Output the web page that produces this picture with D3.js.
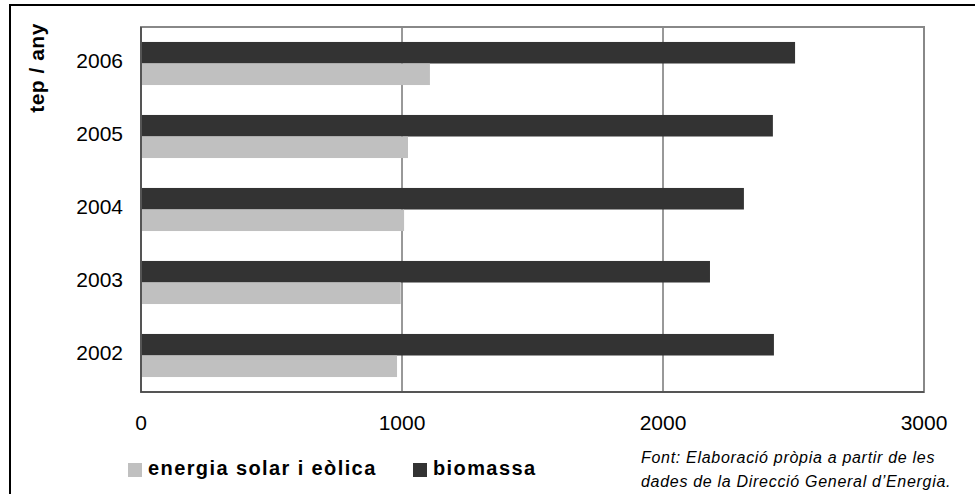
<!DOCTYPE html>
<html>
<head>
<meta charset="utf-8">
<script src="https://cdn.jsdelivr.net/npm/d3@7"></script>
<style>
  body { margin: 0; background: #fff; }
  svg { display: block; font-family: "Liberation Sans", Arial, sans-serif; }
</style>
</head>
<body>
<div id="chart"></div>
<script>
// data
var years = ['2002', '2003', '2004', '2005', '2006'];
var solar = [981, 995, 1008, 1023, 1107];
var biomassa = [2425, 2180, 2310, 2421, 2506];
var xTicks = [0, 1000, 2000, 3000];
var seriesNames = ['energia solar i eòlica', 'biomassa'];
var seriesColors = ['#c0c0c0', '#333333'];

var w = 975, h = 494;
var margin = { top: 27, right: 51, bottom: 102, left: 141 },
	width = w - margin.left - margin.right,
	height = h - margin.top - margin.bottom;

var svg = d3.select('#chart').append('svg')
	.attr('width', w)
	.attr('height', h);

// outer frame
svg.append('path')
	.attr('d', 'M10,' + h + 'V5H' + w)
	.attr('fill', 'none')
	.attr('stroke', '#000')
	.attr('stroke-width', 2);

var g = svg.append('g')
	.attr('transform', 'translate(' + margin.left + ',' + margin.top + ')');

var yScale = d3.scaleBand().domain(years.slice().reverse()).range([0, height]).paddingInner(0.41).paddingOuter(0.205);
var xScale = d3.scaleLinear().domain([0, 3000]).range([0, width]);
var sub = d3.scaleBand().domain(['biomassa', 'solar']).range([0, yScale.bandwidth()]);

// gridlines
g.selectAll('.grid').data(xTicks.slice(1, 3)).enter().append('line')
	.attr('x1', function(d) { return xScale(d); })
	.attr('x2', function(d) { return xScale(d); })
	.attr('y1', 0).attr('y2', height)
	.attr('stroke', '#333').attr('stroke-width', 1);

var rows = years.map(function(y, i) {
	return { year: y, solar: solar[i], biomassa: biomassa[i] };
});

g.selectAll('.bio').data(rows).enter().append('rect')
	.attr('x', 0)
	.attr('y', function(d) { return yScale(d.year) + sub('biomassa'); })
	.attr('width', function(d) { return xScale(d.biomassa); })
	.attr('height', sub.bandwidth())
	.attr('fill', seriesColors[1]);

g.selectAll('.sol').data(rows).enter().append('rect')
	.attr('x', 0)
	.attr('y', function(d) { return yScale(d.year) + sub('solar'); })
	.attr('width', function(d) { return xScale(d.solar); })
	.attr('height', sub.bandwidth())
	.attr('fill', seriesColors[0]);

// plot border
g.append('rect')
	.attr('width', width).attr('height', height)
	.attr('fill', 'none').attr('stroke', '#888').attr('stroke-width', 2);
g.append('path')
	.attr('d', 'M0,0V' + height + 'H' + width)
	.attr('fill', 'none').attr('stroke', '#444').attr('stroke-width', 1.5);

// y labels
g.selectAll('.ylab').data(years).enter().append('text')
	.attr('x', -18)
	.attr('y', function(d) { return yScale(d) + yScale.bandwidth() / 2; })
	.attr('dy', '0.2em')
	.attr('text-anchor', 'end')
	.attr('font-size', 21)
	.text(function(d) { return d; });

// x labels
g.selectAll('.xlab').data(xTicks).enter().append('text')
	.attr('x', function(d) { return xScale(d); })
	.attr('y', height + 38)
	.attr('text-anchor', 'middle')
	.attr('font-size', 21)
	.text(function(d) { return d; });

// axis title
svg.append('text')
	.attr('transform', 'translate(44,68) rotate(-90)')
	.attr('text-anchor', 'middle')
	.attr('font-size', 21)
	.attr('font-weight', 'bold')
	.attr('letter-spacing', 0.5)
	.text('tep / any');

// legend
var legendX = [128, 413];
var lg = svg.selectAll('.leg').data(seriesNames).enter().append('g')
	.attr('transform', function(d, i) { return 'translate(' + legendX[i] + ',463)'; });
lg.append('rect').attr('width', 14).attr('height', 14)
	.attr('fill', function(d, i) { return seriesColors[i]; });
lg.append('text')
	.attr('x', 20).attr('y', 12)
	.attr('font-size', 20).attr('font-weight', 'bold')
	.attr('letter-spacing', 1.4)
	.text(function(d) { return d; });

// source
var src = svg.append('text')
	.attr('font-size', 16).attr('font-style', 'italic')
	.attr('letter-spacing', 0.7);
src.append('tspan').attr('x', 641).attr('y', 463).text('Font: Elaboració pròpia a partir de les');
src.append('tspan').attr('x', 641).attr('y', 487).text('dades de la Direcció General d’Energia.');
</script>
</body>
</html>
